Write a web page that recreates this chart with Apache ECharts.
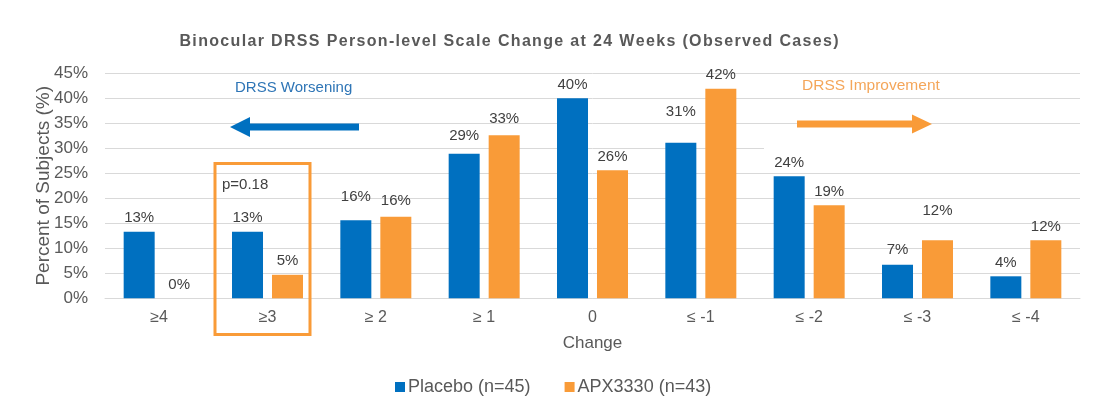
<!DOCTYPE html>
<html>
<head>
<meta charset="utf-8">
<script src="https://cdn.jsdelivr.net/npm/echarts@6/dist/echarts.min.js"></script>
<style>
html,body{margin:0;padding:0;background:#fff;}
#chart{width:1097px;height:402px;}
</style>
</head>
<body>
<div id="chart"></div>
<script>
const categories = ['≥4', '≥3', '≥ 2', '≥ 1', '0', '≤ -1', '≤ -2', '≤ -3', '≤ -4'];
const placebo = [13.3, 13.3, 15.6, 28.9, 40.0, 31.1, 24.4, 6.7, 4.4];
const apx = [0, 4.7, 16.3, 32.6, 25.6, 41.9, 18.6, 11.6, 11.6];
const yTicks = [0, 5, 10, 15, 20, 25, 30, 35, 40, 45];
const seriesNames = ['Placebo (n=45)', 'APX3330 (n=43)'];
const titleText = 'Binocular DRSS Person-level Scale Change at 24 Weeks (Observed Cases)';

// extra label lift (style only)
const placeboLift = [0, 0, 10, 4, 0, 17, 0, 1, 0];
const apxLift = [0, 0, 2, 3, 0, 0, 0, 16, 0];

const BLUE = '#0070C0';
const ORANGE = '#F99B38';
const FONT = 'Liberation Sans, Arial, sans-serif';

const chart = echarts.init(document.getElementById('chart'));

function mkData(vals, lifts) {
  return vals.map((v, i) => ({
    value: v,
    label: { distance: 6 + lifts[i] }
  }));
}

const labelStyle = {
  show: true,
  position: 'top',
  fontFamily: FONT,
  fontSize: 15,
  color: '#404040',
  formatter: p => Math.round(p.value) + '%'
};

// emulate letter spacing with hair spaces
const spacedTitle = titleText.split('').join('\u200A');

chart.setOption({
  animation: false,
  title: {
    text: spacedTitle,
    left: 504,
    textAlign: 'center',
    top: 29,
    textStyle: {
      fontFamily: FONT,
      fontSize: 16,
      fontWeight: 'bold',
      color: '#595959'
    }
  },
  legend: {
    data: seriesNames,
    left: 390,
    top: 373,
    itemWidth: 10,
    itemHeight: 10,
    itemGap: 34,
    icon: 'rect',
    textStyle: {
      fontFamily: FONT,
      fontSize: 18,
      color: '#595959',
      padding: [0, 0, 0, -2]
    }
  },
  grid: { left: 105, right: 17, top: 73.3, bottom: 103.7 },
  xAxis: {
    type: 'category',
    data: categories,
    name: 'Change',
    nameLocation: 'middle',
    nameGap: 37,
    nameTextStyle: {
      fontFamily: FONT,
      fontSize: 17,
      color: '#595959'
    },
    axisLine: { lineStyle: { color: '#d9d9d9' } },
    axisTick: { show: false },
    axisLabel: {
      margin: 11,
      fontFamily: FONT,
      fontSize: 16,
      color: '#595959'
    }
  },
  yAxis: {
    type: 'value',
    min: yTicks[0],
    max: yTicks[yTicks.length - 1],
    interval: 5,
    name: 'Percent of Subjects (%)',
    nameLocation: 'middle',
    nameGap: 52,
    nameMoveOverlap: false,
    nameTextStyle: {
      fontFamily: FONT,
      fontSize: 19,
      color: '#595959'
    },
    axisLine: { show: false },
    axisTick: { show: false },
    splitLine: { lineStyle: { color: '#d9d9d9' } },
    axisLabel: {
      margin: 17,
      fontFamily: FONT,
      fontSize: 17,
      color: '#595959',
      formatter: '{value}%'
    }
  },
  series: [
    {
      name: seriesNames[0],
      type: 'bar',
      barWidth: 31,
      barGap: '29%',
      itemStyle: { color: BLUE },
      label: labelStyle,
      data: mkData(placebo, placeboLift)
    },
    {
      name: seriesNames[1],
      type: 'bar',
      barWidth: 31,
      barGap: '29%',
      itemStyle: { color: ORANGE },
      label: labelStyle,
      data: mkData(apx, apxLift)
    }
  ],
  graphic: [
    { type: 'rect', z: 50, shape: { x: 764, y: 146, width: 318, height: 4 }, style: { fill: '#fff' } },
    {
      type: 'text', left: 235, top: 80, z: 100,
      style: { text: 'DRSS Worsening', fill: '#2E75B6', fontSize: 15, fontFamily: FONT }
    },
    {
      type: 'polygon', z: 100,
      shape: { points: [[230, 127], [250, 117], [250, 123.5], [359, 123.5], [359, 130.5], [250, 130.5], [250, 137]] },
      style: { fill: BLUE }
    },
    {
      type: 'text', left: 802, top: 78, z: 100,
      style: { text: 'DRSS Improvement', fill: '#F4A65A', fontSize: 15.5, fontFamily: FONT }
    },
    {
      type: 'polygon', z: 100,
      shape: { points: [[932, 124], [912, 114.5], [912, 120.5], [797, 120.5], [797, 127.5], [912, 127.5], [912, 133.5]] },
      style: { fill: ORANGE }
    },
    {
      type: 'rect', z: 100,
      shape: { x: 215, y: 163.5, width: 95, height: 171 },
      style: { fill: 'none', stroke: ORANGE, lineWidth: 3 }
    },
    {
      type: 'text', left: 222, top: 177, z: 100,
      style: { text: 'p=0.18', fill: '#404040', fontSize: 15, fontFamily: FONT }
    }
  ]
});
</script>
</body>
</html>
